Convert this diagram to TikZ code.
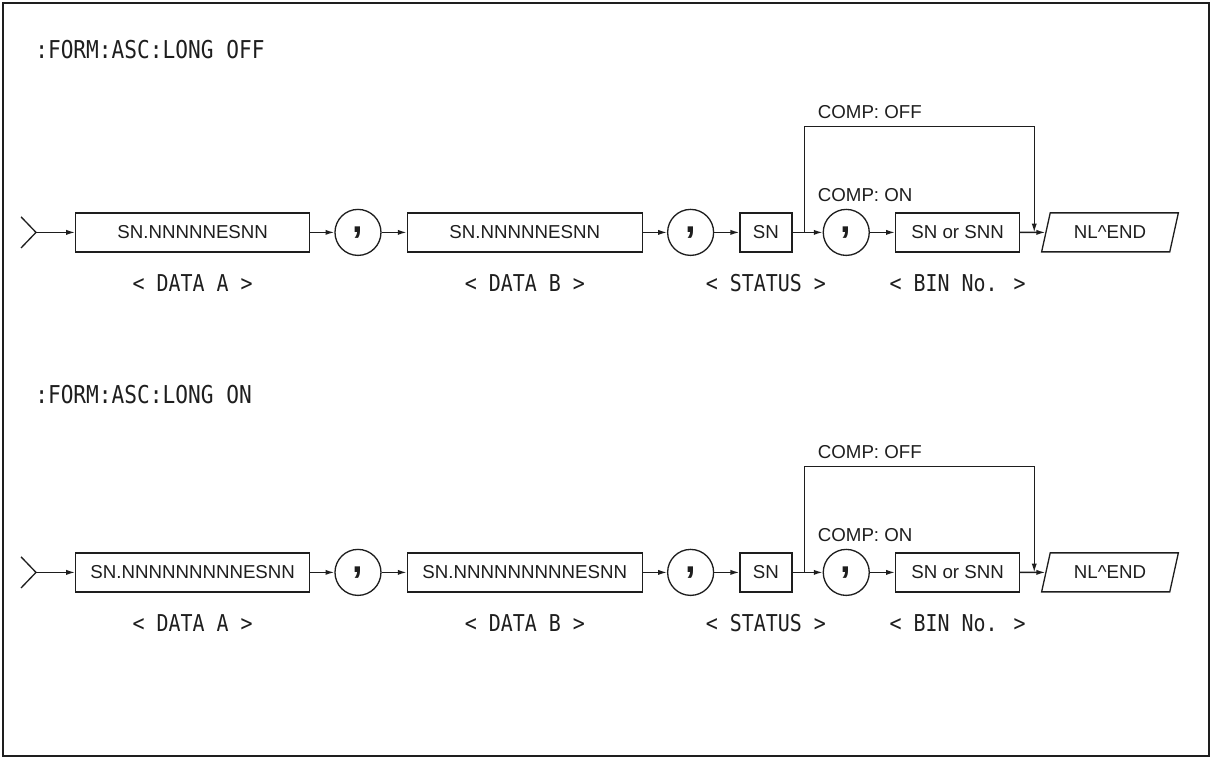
\documentclass[tikz,border=0pt]{standalone}
\usepackage{fontspec}
\setmainfont{Liberation Sans}
\newfontfamily\gothic[FakeStretch=0.86]{DejaVu Sans Mono}
\usetikzlibrary{arrows.meta,positioning,shapes.geometric}
\definecolor{ink}{HTML}{1E1E1E}
\tikzset{
  >={Latex[length=2.2mm,width=1.3mm]},
  every node/.style={text=ink},
  fieldbox/.style={draw=ink,line width=0.33mm,minimum height=9.75mm,inner sep=0pt,font=\fontsize{13.3}{16}\selectfont},
  commacirc/.style={draw=ink,circle,line width=0.33mm,minimum size=11.5mm,inner sep=0pt,font=\fontsize{27}{27}\selectfont\bfseries},
  endbox/.style={fieldbox,trapezium,trapezium left angle=68,trapezium right angle=112,trapezium stretches=true,minimum width=34.25mm},
  tagtext/.style={inner sep=0pt,font=\gothic\fontsize{16.5}{18}\selectfont},
  headtext/.style={inner sep=0pt,anchor=base west,font=\gothic\fontsize{17.5}{20}\selectfont},
  note/.style={inner sep=0pt,font=\fontsize{13.3}{16}\selectfont},
  wire/.style={line width=0.33mm,draw=ink},
  arrow/.style={->,wire},
}

\begin{document}
\begin{tikzpicture}[node distance=6mm]
\useasboundingbox (0,0) rectangle (303mm,-189.75mm);
\draw[ink,line width=0.65mm] (0.75mm,-0.75mm) rectangle (302.25mm,-189mm);

% LONG OFF
\node[headtext] (hdoff) at (8.75mm,-14.75mm) {:FORM:ASC:LONG OFF};
\coordinate (in1) at (9mm,-58.1mm);
\draw[wire] (in1) ++(-3.75mm,3.9mm) -- (in1) -- ++(-3.75mm,-3.9mm);
\node[fieldbox,minimum width=58.5mm,right=9.75mm of in1] (da1) {SN.NNNNNESNN};
\node[commacirc,right=of da1] (ca1) {,};
\node[fieldbox,minimum width=58.75mm,right=6.25mm of ca1] (db1) {SN.NNNNNESNN};
\node[commacirc,right=of db1] (cb1) {,};
\node[fieldbox,minimum width=13mm,right=6.25mm of cb1] (st1) {SN};
\node[commacirc,right=7.5mm of st1] (cc1) {,};
\node[fieldbox,minimum width=31mm,right=6.25mm of cc1] (bin1) {SN or SNN};
\node[endbox,right=6.25mm of bin1] (nl1) {NL\^{}END};
\coordinate[right=3mm of st1] (br1);
\coordinate[right=3.5mm of bin1] (jn1);
\coordinate[above=26.4mm of br1] (up1);
\draw[wire] (st1) -- (br1);
\foreach \a/\b in {in1/da1,da1/ca1,ca1/db1,db1/cb1,cb1/st1,br1/cc1,cc1/bin1,bin1/nl1}{\draw[arrow] (\a) -- (\b);}
\draw[arrow] (br1) -- (up1) -| (jn1);
\node[note,above right=2mm and 3.25mm of up1] (off1) {COMP: OFF};
\node[note,above right=7.7mm and 3.25mm of br1] (on1) {COMP: ON};
\node[tagtext,below=5.4mm of da1] (tda1) {< DATA A >};
\node[tagtext,below=5.4mm of db1] (tdb1) {< DATA B >};
\node[tagtext,below=5.4mm of st1] (tst1) {< STATUS >};
\node[tagtext,below=5.4mm of bin1] (tbin1) {< BIN No. >};

% LONG ON
\node[headtext] (hdon) at (8.75mm,-101mm) {:FORM:ASC:LONG ON};
\coordinate (in2) at (9mm,-143.1mm);
\draw[wire] (in2) ++(-3.75mm,3.9mm) -- (in2) -- ++(-3.75mm,-3.9mm);
\node[fieldbox,minimum width=58.5mm,right=9.75mm of in2] (da2) {SN.NNNNNNNNNESNN};
\node[commacirc,right=of da2] (ca2) {,};
\node[fieldbox,minimum width=58.75mm,right=6.25mm of ca2] (db2) {SN.NNNNNNNNNESNN};
\node[commacirc,right=of db2] (cb2) {,};
\node[fieldbox,minimum width=13mm,right=6.25mm of cb2] (st2) {SN};
\node[commacirc,right=7.5mm of st2] (cc2) {,};
\node[fieldbox,minimum width=31mm,right=6.25mm of cc2] (bin2) {SN or SNN};
\node[endbox,right=6.25mm of bin2] (nl2) {NL\^{}END};
\coordinate[right=3mm of st2] (br2);
\coordinate[right=3.5mm of bin2] (jn2);
\coordinate[above=26.4mm of br2] (up2);
\draw[wire] (st2) -- (br2);
\foreach \a/\b in {in2/da2,da2/ca2,ca2/db2,db2/cb2,cb2/st2,br2/cc2,cc2/bin2,bin2/nl2}{\draw[arrow] (\a) -- (\b);}
\draw[arrow] (br2) -- (up2) -| (jn2);
\node[note,above right=2mm and 3.25mm of up2] (off2) {COMP: OFF};
\node[note,above right=7.7mm and 3.25mm of br2] (on2) {COMP: ON};
\node[tagtext,below=5.4mm of da2] (tda2) {< DATA A >};
\node[tagtext,below=5.4mm of db2] (tdb2) {< DATA B >};
\node[tagtext,below=5.4mm of st2] (tst2) {< STATUS >};
\node[tagtext,below=5.4mm of bin2] (tbin2) {< BIN No. >};

\end{tikzpicture}
\end{document}
